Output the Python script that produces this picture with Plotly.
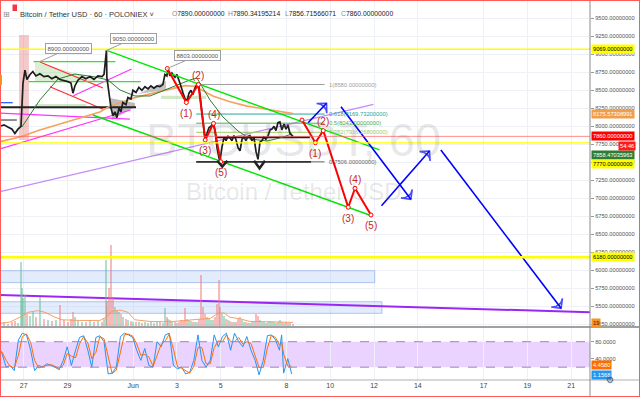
import plotly.graph_objects as go

# ---------------- data (x = days since 27 May 2018 00:00, BTC/USDT 60m) ----------------
tick_days = [0, 2, 5, 7, 9, 12, 14, 16, 18, 21, 23, 25]
tick_labels = ["27", "29", "Jun", "3", "5", "8", "10", "12", "14", "17", "19", "21"]
price_tick_vals = [5250, 5500, 5750, 6000, 6250, 6500, 6750, 7000, 7250, 7500,
                   7750, 8000, 8250, 8500, 8750, 9000, 9250, 9500, 9750]
price_tick_text = [f"{v}.00000000" for v in price_tick_vals]

price_days = [-1.08, -0.90, -0.72, -0.53, -0.40, -0.26, -0.12, -0.08, -0.03, 0.06,
              0.15, 0.29, 0.42, 0.56, 0.74, 0.93, 1.11, 1.29, 1.47, 1.66,
              1.84, 2.02, 2.16, 2.25, 2.34, 2.48, 2.66, 2.84, 3.03, 3.21,
              3.39, 3.58, 3.67, 3.76, 3.78, 3.80, 3.89, 3.99, 4.08, 4.17,
              4.26, 4.35, 4.44, 4.53, 4.67, 4.76, 4.90, 4.99, 5.13, 5.26,
              5.40, 5.54, 5.68, 5.81, 5.95, 6.09, 6.22, 6.36, 6.45, 6.54,
              6.59, 6.68, 6.77, 6.91, 7.00, 7.09, 7.18, 7.27, 7.37, 7.46,
              7.55, 7.64, 7.73, 7.82, 7.91, 8.00, 8.10, 8.19, 8.28, 8.37,
              8.46, 8.55, 8.64, 8.74, 8.83, 8.92, 8.96, 9.05, 9.15, 9.24,
              9.33, 9.42, 9.51, 9.60, 9.69, 9.79, 9.88, 9.97, 10.06, 10.15,
              10.24, 10.33, 10.42, 10.52, 10.61, 10.70, 10.79, 10.88, 10.97, 11.06,
              11.16, 11.25, 11.34, 11.43, 11.52, 11.61, 11.70, 11.79, 11.89, 11.98,
              12.07, 12.16, 12.30]
price_close = [8000, 8020, 7990, 7960, 7900, 7960, 8000, 8300, 8600, 8780,
               8650, 8720, 8760, 8700, 8730, 8690, 8700, 8660, 8690, 8650,
               8640, 8620, 8600, 8460, 8560, 8640, 8690, 8660, 8690, 8650,
               8700, 8690, 8720, 8950, 9050, 8680, 8500, 8250, 8150, 8200,
               8120, 8250, 8200, 8330, 8300, 8400, 8380, 8500, 8470, 8540,
               8500, 8550, 8520, 8560, 8530, 8560, 8550, 8580, 8720, 8700,
               8790, 8700, 8740, 8680, 8720, 8650, 8560, 8470, 8380, 8350,
               8460, 8500, 8440, 8530, 8580, 8560, 8300, 8000, 7830, 7900,
               7980, 8000, 8040, 7950, 7700, 7560, 7506, 7700, 7850, 7800,
               7860, 7840, 7800, 7870, 7820, 7700, 7660, 7820, 7850, 7800,
               7860, 7870, 7800, 7840, 7650, 7540, 7780, 7800, 7850, 7820,
               7870, 7950, 7960, 8000, 7940, 8050, 8060, 7950, 8030, 7960,
               8020, 7900, 7860]
volume = [12, 15, 10, 14, 18, 12, 199, 120, 90, 98,
          40, 35, 45, 30, 92, 25, 20, 18, 22, 67,
          20, 15, 25, 45, 30, 18, 15, 14, 20, 16,
          18, 15, 25, 205, 60, 80, 120, 251, 90, 60,
          50, 45, 40, 30, 25, 20, 18, 16, 14, 15,
          12, 14, 12, 15, 12, 14, 16, 12, 57, 30,
          25, 20, 15, 14, 12, 15, 20, 18, 57, 25,
          20, 18, 15, 16, 14, 25, 159, 60, 40, 30,
          25, 20, 22, 30, 70, 144, 60, 40, 35, 25,
          20, 18, 15, 14, 16, 25, 30, 20, 15, 14,
          12, 13, 14, 16, 40, 35, 20, 15, 14, 12,
          15, 18, 14, 16, 13, 15, 20, 14, 12, 15,
          13, 12, 10]

vol_ma_days = [-1.08, -0.63, -0.17, 0.20, 0.65, 0.97, 1.43, 1.75, 2.57, 3.48,
               3.76, 4.03, 4.40, 4.76, 5.08, 5.77, 6.68, 7.50, 8.05, 8.51,
               8.87, 9.15, 9.42, 9.88, 10.33, 11.25, 12.30]
vol_ma = [11, 15, 30, 45, 50, 45, 30, 22, 20, 20,
          30, 48, 52, 45, 22, 17, 16, 22, 24, 26,
          42, 43, 30, 25, 17, 16, 14]

ma_long_days = [-1.08, -0.17, 0.74, 1.66, 2.57, 3.48, 3.94, 4.40, 4.99, 5.77,
                6.82, 7.36, 7.82, 8.64, 9.42, 10.20, 11.02, 11.70, 12.30]
ma_long = [7786, 7851, 7948, 8032, 8115, 8198, 8280, 8330, 8390, 8450,
           8530, 8565, 8555, 8420, 8340, 8280, 8240, 8205, 8176]

ma_short_days = [-0.08, 0.74, 1.57, 2.34, 3.26, 3.85, 4.40, 5.08, 5.77, 6.45,
                 7.05, 7.59, 7.91, 8.51, 9.10, 9.79, 10.33, 11.11, 11.70, 12.25]
ma_short = [7990, 8365, 8657, 8726, 8685, 8643, 8504, 8421, 8421, 8504,
            8587, 8643, 8671, 8365, 8129, 7935, 7824, 7796, 7837, 7893]

stoch_days = [-1.08, -0.99, -0.80, -0.62, -0.43, -0.24, -0.06, 0.13, 0.32, 0.50,
              0.69, 0.87, 1.06, 1.25, 1.43, 1.62, 1.81, 1.99, 2.18, 2.37,
              2.55, 2.74, 2.93, 3.11, 3.30, 3.48, 3.67, 3.86, 4.04, 4.23,
              4.42, 4.60, 4.79, 4.98, 5.16, 5.35, 5.53, 5.72, 5.91, 6.09,
              6.28, 6.47, 6.65, 6.84, 7.03, 7.21, 7.40, 7.58, 7.77, 7.96,
              8.14, 8.33, 8.52, 8.70, 8.89, 9.08, 9.26, 9.45, 9.63, 9.82,
              10.01, 10.19, 10.38, 10.57, 10.75, 10.94, 11.13, 11.31, 11.50, 11.68,
              11.78, 11.87, 12.06, 12.24]
stoch_k = [60, 52, 20, 24, 12, 84, 100, 96, 60, 12,
           24, 20, 28, 24, 20, 14, 36, 68, 24, 60,
           90, 94, 60, 20, 90, 94, 80, 4, 6, 20,
           92, 100, 96, 90, 60, 36, 64, 24, 20, 80,
           68, 96, 100, 24, 16, 20, 4, 8, 36, 96,
           36, 20, 36, 96, 68, 92, 100, 60, 100, 80,
           68, 92, 60, 36, 2, 36, 94, 96, 84, 60,
           96, 6, 40, 4]
stoch_d = [58, 56, 36, 22, 18, 48, 92, 98, 78, 36,
           18, 22, 24, 26, 22, 17, 25, 52, 46, 42,
           75, 92, 77, 40, 55, 92, 87, 42, 5, 13,
           56, 96, 98, 93, 75, 48, 50, 44, 22, 50,
           74, 82, 98, 62, 20, 18, 12, 6, 22, 66,
           66, 28, 28, 66, 82, 80, 96, 80, 80, 90,
           74, 80, 76, 48, 19, 19, 65, 95, 90, 72,
           78, 51, 23, 22]

# ---------------- drawings (anchor points in days / price) ----------------
green_channel = [((3.73, 16.25), (9060, 7671)), ((3.16, 15.79), (8157, 6768))]
green_levels = [((0.45, 4.19), (8897, 8897)), ((0.22, 5.35), (8619, 8619))]
red_lines = [((0.74, 3.62), (8893, 8532)), ((1.20, 3.63), (8550, 8236))]
magenta_lines = [((2.27, 4.93), (8425, 8796)), ((-1.08, 4.85), (8183, 8100)),
                 ((-1.08, 4.88), (7685, 8226))]
purple_light = ((-1.08, 15.97), (7091, 8305))
purple_dark = ((-1.08, 25.86), (5657, 5417))
black_lines = [((-1.08, 5.13), (8264, 8264)), ((8.81, 13.07), (7847, 7847))]
short_lines = [((-1.08, -0.50), (8328, 8328), "#2962ff"), ((-1.08, -0.31), (8087, 8087), "#555555")]

fib_ratio = ["1", "0.618", "0.5", "0.382", "0"]
fib_price = [8580, 8169.732, 8043, 7916.268, 7506]
fib_color = ["#a0a0a0", "#26a69a", "#4caf50", "#9ccc65", "#666666"]
fib_span = (7.88, 13.74)

wave_hist_days = [6.56, 7.43, 7.98, 8.29, 8.67, 9.00]
wave_hist_price = [8803, 8330, 8580, 7810, 8040, 7506]
wave_proj_days = [12.71, 13.32, 13.68, 14.82, 15.13, 15.86]
wave_proj_price = [8087, 7772, 7939, 6875, 7139, 6768]
wave_labels = ["", "(1)", "(2)", "(3)", "(4)", "(5)"]

arrows = [((12.99, 13.83), (8050, 8319)), ((14.49, 17.68), (8272, 6986)),
          ((16.34, 18.53), (6897, 7657)), ((19.05, 24.54), (7671, 5472))]

chevron_days = [[8.84, 9.07, 9.30], [10.52, 10.77, 11.02]]
chevron_price = [[7522, 7439, 7522], [7522, 7416, 7522]]

h_levels_yellow = [9069, 7770]
h_level_support = 6180
last_price = 7860

callouts = [(0.74, 8900, "8900.00000000", 29, -13),
            (3.76, 9050, "9050.00000000", 27, -12),
            (6.56, 8803, "8803.00000000", 30, -13)]

FONT = "Liberation Sans, Arial, sans-serif"
AXF = 5.7
fig = go.Figure()

def poly(xs, ys, fill, yaxis="y"):
    fig.add_trace(go.Scatter(x=xs + [xs[0]], y=ys + [ys[0]], fill="toself", fillcolor=fill,
                             mode="lines", line=dict(width=0), yaxis=yaxis, hoverinfo="skip",
                             showlegend=False))

poly([-1.08, 16.03, 16.03, -1.08], [5828, 5828, 5994, 5994], "rgba(175,200,245,0.35)")
poly([-1.08, 16.36, 16.36, -1.08], [5402, 5402, 5563, 5563], "rgba(175,200,245,0.35)")
poly([-0.21, 0.24, 0.24, -0.21], [7810, 7810, 9268, 9268], "rgba(225,120,120,0.40)")
poly([0.52, 3.71, 0.52], [8893, 8615, 8615], "rgba(140,200,110,0.30)")
poly([0.52, 2.85, 2.85, 0.52], [8275, 8275, 8310, 8310], "rgba(140,200,110,0.40)")
poly([6.27, 8.33, 8.33, 6.27], [8379, 8379, 8425, 8425], "rgba(140,200,110,0.40)")
poly([3.94, 5.08, 5.08, 4.03], [8393, 8323, 8268, 8087], "rgba(90,90,90,0.40)")
poly([5.22, 6.50, 6.50], [8448, 8629, 8504], "rgba(90,90,90,0.35)")

for xs, ys in [((-1.08, 16.03), (5828, 5994)), ((-1.08, 16.36), (5402, 5563))]:
    fig.add_trace(go.Scatter(x=[xs[0], xs[1], xs[1], xs[0], xs[0]], y=[ys[0], ys[0], ys[1], ys[1], ys[0]],
                             mode="lines", line=dict(color="rgba(130,165,230,0.6)", width=1),
                             hoverinfo="skip", showlegend=False))

vol_colors = ["rgba(102,187,150,0.5)"] + [
    "rgba(240,120,120,0.5)" if price_close[i] < price_close[i - 1] else "rgba(102,187,150,0.5)"
    for i in range(1, len(price_close))]
fig.add_trace(go.Bar(x=price_days, y=volume, marker=dict(color=vol_colors, line=dict(width=0)),
                     width=0.06, yaxis="y3", hoverinfo="skip", showlegend=False))
fig.add_trace(go.Scatter(x=vol_ma_days, y=vol_ma, mode="lines", line=dict(color="rgba(245,150,90,0.9)", width=1),
                         yaxis="y3", hoverinfo="skip", showlegend=False))

def seg(xs, ys, color, width, dash=None):
    fig.add_trace(go.Scatter(x=list(xs), y=list(ys), mode="lines",
                             line=dict(color=color, width=width, dash=dash),
                             hoverinfo="skip", showlegend=False))

seg(*purple_dark, "#9c27f5", 2)
seg(*purple_light, "#c58af9", 1.2)
for xs, ys in magenta_lines:
    seg(xs, ys, "#ff33ff", 1.2)
for xs, ys in red_lines:
    seg(xs, ys, "#ff2a2a", 1.2)
for xs, ys in green_levels:
    seg(xs, ys, "#33e033", 1.3)
for xs, ys in black_lines:
    seg(xs, ys, "#222222", 1.8)
for xs, ys, c in short_lines:
    seg(xs, ys, c, 1.3)
for r, p, c in zip(fib_ratio, fib_price, fib_color):
    seg(fib_span, (p, p), c, 1)
seg((7.88, 13.12), (7506, 7506), "#333333", 1.6)

seg(ma_long_days, ma_long, "#f5a25d", 1.6)
seg(ma_short_days, ma_short, "#2e7d32", 1)

seg(price_days, price_close, "#1e1e1e", 1.7)

for xs, ys in green_channel:
    seg(xs, ys, "#00e600", 1.4)

for dx, py in [(wave_hist_days, wave_hist_price), (wave_proj_days, wave_proj_price)]:
    fig.add_trace(go.Scatter(x=dx, y=py, mode="lines+markers", line=dict(color="#ff0000", width=2),
                             marker=dict(size=4, color="white", line=dict(color="#ff0000", width=1)),
                             hoverinfo="skip", showlegend=False))

for xs, ys in arrows:
    fig.add_trace(go.Scatter(x=list(xs), y=list(ys), mode="lines+markers",
                             line=dict(color="#0000ff", width=1.6),
                             marker=dict(symbol="arrow-wide-open", size=[0, 10], angleref="previous",
                                         color="#0000ff", line=dict(color="#0000ff", width=1.6)),
                             hoverinfo="skip", showlegend=False))

for cx, cy in zip(chevron_days, chevron_price):
    seg(cx, cy, "#222222", 2.5)

fig.add_trace(go.Scatter(x=stoch_days, y=stoch_k, mode="lines", line=dict(color="#2196f3", width=1),
                         yaxis="y2", hoverinfo="skip", showlegend=False))
fig.add_trace(go.Scatter(x=stoch_days, y=stoch_d, mode="lines", line=dict(color="#ff6d00", width=1),
                         yaxis="y2", hoverinfo="skip", showlegend=False))

shapes = []
shapes.append(dict(type="rect", xref="paper", yref="y2", x0=0, x1=1, y0=20, y1=80,
                   fillcolor="#ebd3ff", line=dict(width=0), layer="below"))
for v in (20, 80):
    shapes.append(dict(type="line", xref="paper", yref="y2", x0=0, x1=1, y0=v, y1=v,
                       line=dict(color="#9e86b5", width=1, dash="dash")))
for v in h_levels_yellow:
    shapes.append(dict(type="line", xref="paper", yref="y", x0=0, x1=1, y0=v, y1=v,
                       line=dict(color="#ffff00", width=1.4)))
shapes.append(dict(type="line", xref="paper", yref="y", x0=0, x1=1, y0=h_level_support, y1=h_level_support,
                   line=dict(color="#ffff00", width=2.6)))
shapes.append(dict(type="line", xref="paper", yref="y", x0=0, x1=1, y0=last_price, y1=last_price,
                   line=dict(color="rgba(255,80,80,0.65)", width=1)))
PB = 53 / 380
XR = 640 / 590
YB = -17 / 380
shapes.append(dict(type="line", xref="paper", yref="paper", x0=0, x1=XR, y0=PB, y1=PB,
                   line=dict(color="#a0a0a0", width=2)))
shapes.append(dict(type="line", xref="paper", yref="paper", x0=0, x1=XR, y0=0, y1=0,
                   line=dict(color="#b0b0b0", width=1.2)))
shapes.append(dict(type="line", xref="paper", yref="paper", x0=1, x1=1, y0=YB, y1=1,
                   line=dict(color="#8a8a8a", width=1)))
shapes.append(dict(type="rect", xref="paper", yref="paper", x0=0, x1=XR, y0=YB, y1=1,
                   line=dict(color="#ff5a5a", width=2)))
shapes.append(dict(type="rect", xref="paper", yref="paper", x0=12.5 / 590, x1=17 / 590,
                   y0=1 - 11 / 380, y1=1 - 4.5 / 380, fillcolor="#f23645", line=dict(width=0)))
shapes.append(dict(type="rect", xref="paper", yref="paper", x0=0, x1=2 / 590,
                   y0=1 - 85 / 380, y1=1 - 75 / 380, fillcolor="#f7931e", line=dict(width=0)))

ann = []
ann.append(dict(text="BTCUSDT, 60", xref="paper", yref="paper", x=0.4975, y=1 - 139 / 380,
                showarrow=False, font=dict(family=FONT, size=47, color="rgba(110,110,110,0.16)")))
ann.append(dict(text="Bitcoin / Tether USD", xref="paper", yref="paper", x=0.4975, y=1 - 191 / 380,
                showarrow=False, font=dict(family=FONT, size=24, color="rgba(110,110,110,0.16)")))
ann.append(dict(text="⊞", xref="paper", yref="paper", x=1 / 590, y=1 - 8 / 380, xanchor="left",
                showarrow=False, font=dict(family="DejaVu Sans", size=8, color="#888")))
ann.append(dict(text="Bitcoin / Tether USD · 60 · POLONIEX ˅", xref="paper", yref="paper", x=18 / 590,
                y=1 - 8 / 380, xanchor="left", showarrow=False, font=dict(family=FONT, size=7.5, color="#333")))
for px, letter, val in [(170, "O", "7890.00000000"), (226, "H", "7890.34195214"),
                        (282.5, "L", "7856.71566071"), (339, "C", "7860.00000000")]:
    ann.append(dict(text=f"<span style='color:#8a8a8a'>{letter}</span>{val}", xref="paper", yref="paper",
                    x=px / 590, y=1 - 8 / 380, xanchor="left", showarrow=False,
                    font=dict(family=FONT, size=6.8, color="#222")))
for x, y, t, ax, ay in callouts:
    ann.append(dict(x=x, y=y, xref="x", yref="y", text=t, showarrow=True, arrowhead=0, arrowwidth=1,
                    arrowcolor="#9e9e9e", ax=ax, ay=ay, bgcolor="white", bordercolor="#9e9e9e",
                    borderwidth=1, borderpad=1.5, font=dict(family=FONT, size=6, color="#555")))
for r, p, c in zip(fib_ratio, fib_price, fib_color):
    ann.append(dict(x=13.83, y=p, xref="x", yref="y", text=f"{r}({p:.8f})", xanchor="left",
                    showarrow=False, font=dict(family=FONT, size=5.8, color=c)))
for dx, py in [(wave_hist_days, wave_hist_price), (wave_proj_days, wave_proj_price)]:
    for i in range(1, 6):
        up = i in (2, 4)
        ann.append(dict(x=dx[i], y=py[i], xref="x", yref="y", text=wave_labels[i], showarrow=False,
                        yshift=9 if up else -11, font=dict(family=FONT, size=10, color="#c62828")))

def tag(y, text, bg, fg="white", yref="y", xs=1):
    ann.append(dict(x=1, y=y, xref="paper", yref=yref, text=text, xanchor="left", showarrow=False,
                    xshift=xs, bgcolor=bg, borderpad=1, font=dict(family=FONT, size=AXF, color=fg)))

tag(9069, "9069.00000000", "#ffff00", "#000")
tag(8175.57, "8175.57308991", "#f29d49")
tag(7860, "7860.00000000", "#ff0000")
tag(7601, "7858.47035963", "#2e7d32")
tag(7472, "7770.00000000", "#ffff00", "#000")
tag(6180, "6180.00000000", "#ffff00", "#000")
tag(5272, "19", "#f7931e", "#222")
tag(25.8, "4.4580", "#ff6d00", yref="y2")
tag(2.5, "1.1568", "#2196f3", yref="y2")
ann.append(dict(x=1, y=7730, xref="paper", yref="y", text="54:46", xanchor="left", showarrow=False,
                xshift=28, bgcolor="#ff1a1a", borderpad=1, font=dict(family=FONT, size=AXF, color="white")))
ann.append(dict(text="⚙", xref="paper", yref="paper", x=615.5 / 590, y=-7 / 380, showarrow=False,
                font=dict(family="DejaVu Sans", size=9, color="#555")))

fig.update_layout(
    width=640, height=397, margin=dict(l=0, r=50, t=0, b=17),
    paper_bgcolor="white", plot_bgcolor="white", showlegend=False, bargap=0,
    shapes=shapes, annotations=ann,
    xaxis=dict(domain=[0, 1], range=[-1.08, 25.86], anchor="y2", tickvals=tick_days, ticktext=tick_labels,
               showgrid=True, gridcolor="#edf1f7", gridwidth=1, zeroline=False, showline=False, ticks="",
               tickfont=dict(family=FONT, size=7, color="#444"), automargin=False),
    yaxis=dict(domain=[PB, 1], range=[5212, 9754], side="right", anchor="x", tickvals=price_tick_vals,
               ticktext=price_tick_text, showgrid=True, gridcolor="#eef2f7", zeroline=False,
               ticks="outside", ticklen=3, tickcolor="#999", showline=False,
               tickfont=dict(family=FONT, size=AXF, color="#555"), automargin=False),
    yaxis2=dict(domain=[0, PB], range=[-10.2, 114.6], side="right", anchor="x", tickvals=[40, 80],
                ticktext=["40.0000", "80.0000"], showgrid=False, zeroline=False, ticks="outside",
                ticklen=3, tickcolor="#999", tickfont=dict(family=FONT, size=AXF, color="#555"),
                automargin=False),
    yaxis3=dict(overlaying="y", range=[0, 1000], visible=False, side="right"),
)

fig.write_html("out.html", config={"displayModeBar": False},
               post_script="document.body.style.margin='0';document.body.style.overflow='hidden';")
